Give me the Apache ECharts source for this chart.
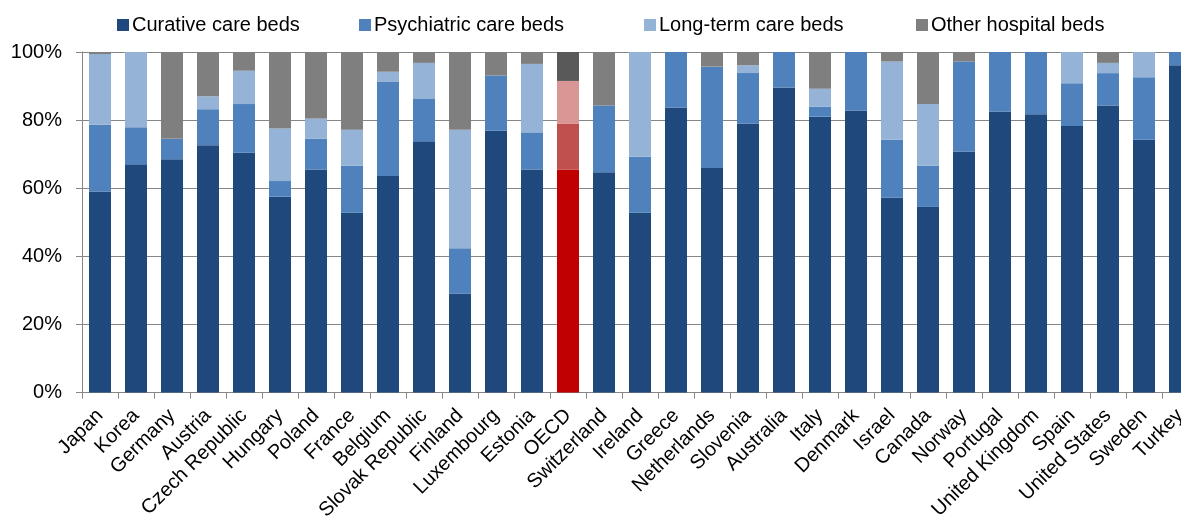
<!DOCTYPE html>
<html>
<head>
<meta charset="utf-8">
<script src="https://cdn.jsdelivr.net/npm/echarts@6/dist/echarts.min.js"></script>
<style>
  html, body { margin: 0; padding: 0; background: #fff; overflow: hidden; }
  #chart { width: 1181px; height: 525px; }
</style>
</head>
<body>
<div id="chart"></div>
<script>
// countries, ordered as in the picture
var countries = ['Japan', 'Korea', 'Germany', 'Austria', 'Czech Republic', 'Hungary', 'Poland', 'France',
  'Belgium', 'Slovak Republic', 'Finland', 'Luxembourg', 'Estonia', 'OECD', 'Switzerland', 'Ireland',
  'Greece', 'Netherlands', 'Slovenia', 'Australia', 'Italy', 'Denmark', 'Israel', 'Canada', 'Norway',
  'Portugal', 'United Kingdom', 'Spain', 'United States', 'Sweden', 'Turkey'];

// share of beds (%) per type
var curative = [59.0, 67.0, 68.5, 72.6, 70.4, 57.5, 65.5, 52.9, 63.6, 73.8, 29.1, 76.9, 65.5, 65.5, 64.7, 52.9,
  83.6, 65.9, 79.0, 89.6, 81.0, 82.8, 57.2, 54.5, 70.8, 82.5, 81.7, 78.3, 84.3, 74.2, 96.1];
var psychiatric = [19.6, 10.9, 6.0, 10.6, 14.3, 4.6, 9.0, 13.7, 27.6, 12.4, 13.3, 16.2, 10.9, 13.5, 19.6, 16.3,
  16.4, 29.8, 14.8, 10.4, 2.9, 17.2, 17.0, 12.1, 26.4, 17.5, 18.3, 12.5, 9.5, 18.4, 3.9];
var longTerm = [20.8, 22.1, 0, 3.8, 9.8, 15.4, 6.0, 10.6, 3.0, 10.6, 34.8, 0, 20.1, 12.5, 0, 30.8,
  0, 0, 2.3, 0, 5.3, 0, 23.0, 18.1, 0, 0, 0, 9.2, 3.0, 7.4, 0];
var other = [0.6, 0, 25.5, 13.0, 5.5, 22.5, 19.5, 22.8, 5.8, 3.2, 22.8, 6.9, 3.5, 8.5, 15.7, 0,
  0, 4.3, 3.9, 0, 10.8, 0, 2.8, 15.3, 2.8, 0, 0, 0, 3.2, 0, 0];

var yTicks = [0, 20, 40, 60, 80, 100];

var seriesNames = ['Curative care beds', 'Psychiatric care beds', 'Long-term care beds', 'Other hospital beds'];
var colors = ['#1F497D', '#4F81BD', '#95B3D7', '#7F7F7F'];
// OECD average is highlighted in red tones
var oecdColors = ['#C00000', '#C0504D', '#D99694', '#595959'];
var highlight = 'OECD';

// legend entries are spread out like in the original
var legendLeft = [112, 354, 639, 911];

function makeData(values, idx) {
  return values.map(function (v, i) {
    if (countries[i] === highlight) {
      return { value: v, itemStyle: { color: oecdColors[idx] } };
    }
    return v;
  });
}

var myChart = echarts.init(document.getElementById('chart'));
var font = 'Liberation Sans, Arial, sans-serif';

var option = {
  animation: false,
  color: colors,
  legend: seriesNames.map(function (name, i) {
    return {
      top: 10,
      left: legendLeft[i],
      itemWidth: 12,
      itemHeight: 12,
      icon: 'rect',
      textStyle: { fontFamily: font, fontSize: 20, color: '#000', padding: [0, 0, 0, -2] },
      data: [name]
    };
  }),
  grid: {
    left: 82,
    top: 52,
    width: 1116,   // last category runs past the right edge, as in the original
    height: 340.5,
    outerBoundsMode: 'none'
  },
  xAxis: {
    type: 'category',
    data: countries,
    axisLine: { lineStyle: { color: '#868686', width: 1 } },
    axisTick: { show: true, length: 6, lineStyle: { color: '#868686' } },
    axisLabel: {
      interval: 0,
      rotate: 45,
      margin: 20,
      fontFamily: font,
      fontSize: 20,
      color: '#000'
    }
  },
  yAxis: {
    type: 'value',
    min: yTicks[0],
    max: yTicks[yTicks.length - 1],
    interval: 20,
    axisLine: { show: true, lineStyle: { color: '#868686' } },
    axisTick: { show: true, length: 6, lineStyle: { color: '#868686' } },
    splitLine: { lineStyle: { color: '#868686', width: 1 } },
    axisLabel: {
      formatter: '{value}%',
      margin: 20,
      fontFamily: font,
      fontSize: 20,
      color: '#000'
    }
  },
  series: [curative, psychiatric, longTerm, other].map(function (vals, idx) {
    return {
      name: seriesNames[idx],
      type: 'bar',
      stack: 'beds',
      barWidth: 22,
      data: makeData(vals, idx)
    };
  })
};

myChart.setOption(option);
</script>
</body>
</html>
